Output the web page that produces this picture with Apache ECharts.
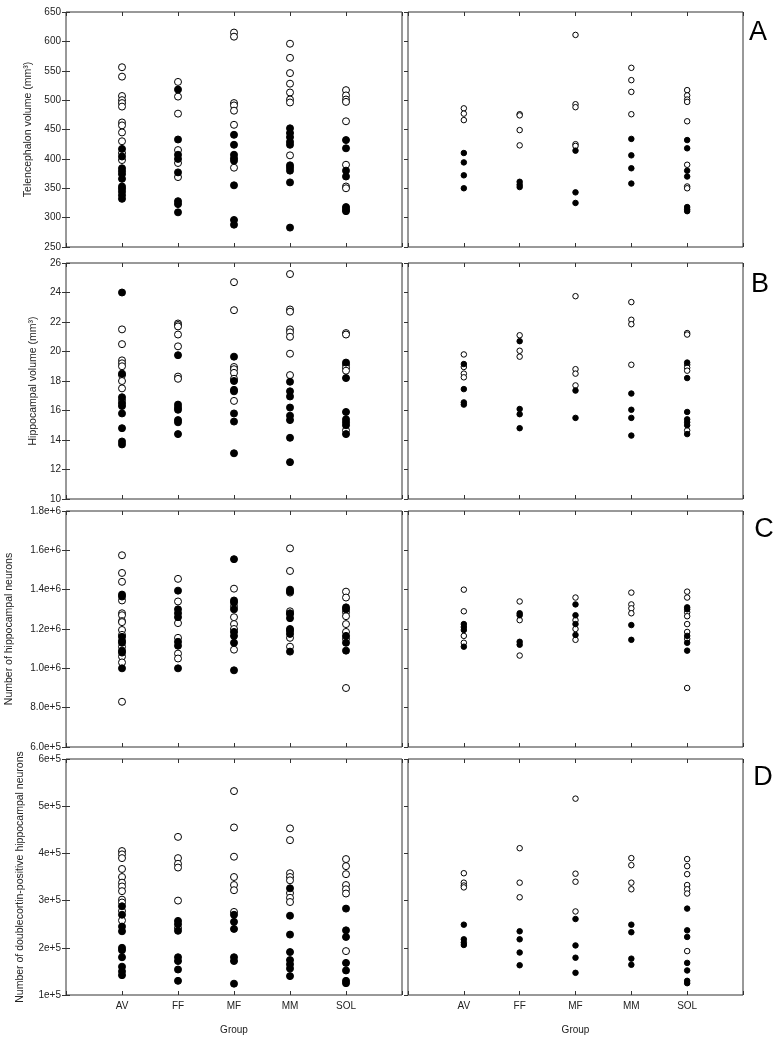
<!DOCTYPE html>
<html><head><meta charset="utf-8">
<script src="https://cdn.jsdelivr.net/npm/echarts@6/dist/echarts.min.js"></script>
<style>html,body{margin:0;padding:0;background:#fff}#c{width:780px;height:1041px}</style>
</head><body><div id="c"></div>
<script>
// ---- data ----
const groups = ['AV', 'FF', 'MF', 'MM', 'SOL'];
const xTickLabels = ['', 'AV', 'FF', 'MF', 'MM', 'SOL', ''];

// A: Telencephalon volume (mm3) — left: all groups, right: subset
const telLeftOpen = [
  [556, 540, 507, 500, 495, 489, 462, 457, 445, 430, 410, 398],
  [531, 506, 477, 415, 393, 369],
  [615, 608, 495, 491, 482, 458, 385],
  [596, 572, 546, 528, 513, 501, 496, 406],
  [517, 508, 501, 497, 464, 390, 353, 350]
];
const telLeftFilled = [
  [417, 404, 384, 379, 374, 366, 353, 349, 344, 338, 332],
  [518, 433, 407, 400, 377, 328, 323, 309],
  [441, 424, 407, 401, 397, 355, 296, 288],
  [452, 444, 437, 429, 424, 389, 385, 380, 360, 283],
  [432, 418, 380, 370, 318, 314, 311]
];
const telRightOpen = [
  [486, 477, 466],
  [476, 474, 449, 423],
  [611, 493, 488, 425, 422],
  [555, 534, 514, 476],
  [517, 508, 501, 497, 464, 390, 353, 350]
];
const telRightFilled = [
  [410, 394, 372, 350],
  [361, 356, 352],
  [414, 343, 325],
  [434, 406, 384, 358],
  [432, 418, 380, 370, 318, 314, 311]
];

// B: Hippocampal volume (mm3)
const hipLeftOpen = [
  [21.5, 20.5, 19.4, 19.2, 19.0, 18.4, 18.0, 17.5, 16.7],
  [21.9, 21.8, 21.7, 21.15, 20.35, 18.3, 18.15],
  [24.7, 22.8, 18.95, 18.8, 18.55, 18.15, 16.65],
  [25.25, 22.85, 22.7, 21.5, 21.3, 21.0, 19.85, 18.4],
  [21.25, 21.15, 19.1, 18.9, 18.7, 14.65]
];
const hipLeftFilled = [
  [24.0, 18.5, 16.9, 16.5, 16.3, 15.8, 14.8, 13.9, 13.7],
  [19.75, 16.4, 16.2, 16.05, 15.35, 15.2, 14.4],
  [19.65, 18.0, 17.4, 17.3, 15.8, 15.25, 13.1],
  [17.95, 17.3, 16.95, 16.2, 15.65, 15.35, 14.15, 12.5],
  [19.25, 18.2, 15.9, 15.4, 15.2, 15.0, 14.4]
];
const hipRightOpen = [
  [19.8, 18.95, 18.5, 18.25],
  [21.1, 20.05, 19.65],
  [23.75, 18.8, 18.5, 17.7],
  [23.35, 22.15, 21.85, 19.1],
  [21.25, 21.15, 19.1, 18.9, 18.7, 14.65]
];
const hipRightFilled = [
  [19.15, 17.45, 16.55, 16.4],
  [20.7, 16.1, 15.75, 14.8],
  [17.35, 15.5],
  [17.15, 16.05, 15.5, 14.3],
  [19.25, 18.2, 15.9, 15.4, 15.2, 15.0, 14.4]
];

// C: Number of hippocampal neurons
const neuLeftOpen = [
  [1575000, 1485000, 1440000, 1345000, 1280000, 1270000, 1240000, 1235000, 1195000, 1170000, 1110000, 1060000, 1030000, 830000],
  [1455000, 1340000, 1230000, 1155000, 1075000, 1050000],
  [1405000, 1315000, 1260000, 1225000, 1200000, 1095000],
  [1610000, 1495000, 1385000, 1290000, 1275000, 1155000, 1110000],
  [1390000, 1360000, 1285000, 1265000, 1225000, 1185000, 1150000, 900000]
];
const neuLeftFilled = [
  [1375000, 1365000, 1160000, 1140000, 1130000, 1090000, 1080000, 1000000],
  [1395000, 1300000, 1280000, 1260000, 1135000, 1115000, 1000000],
  [1555000, 1345000, 1335000, 1300000, 1185000, 1165000, 1130000, 990000],
  [1400000, 1390000, 1280000, 1255000, 1200000, 1190000, 1175000, 1085000],
  [1310000, 1300000, 1165000, 1130000, 1090000]
];
const neuRightOpen = [
  [1400000, 1290000, 1165000, 1130000],
  [1340000, 1245000, 1065000],
  [1360000, 1245000, 1200000, 1145000],
  [1385000, 1325000, 1305000, 1280000],
  [1390000, 1360000, 1285000, 1265000, 1225000, 1185000, 1150000, 900000]
];
const neuRightFilled = [
  [1225000, 1210000, 1195000, 1110000],
  [1280000, 1270000, 1135000, 1120000],
  [1325000, 1270000, 1225000, 1170000],
  [1220000, 1145000],
  [1310000, 1300000, 1165000, 1130000, 1090000]
];

// D: Number of doublecortin-positive hippocampal neurons
const dcxLeftOpen = [
  [405000, 398000, 390000, 367000, 350000, 338000, 330000, 320000, 302000, 296000, 278000, 258000],
  [435000, 390000, 378000, 370000, 300000, 242000],
  [532000, 455000, 393000, 350000, 333000, 322000, 276000],
  [453000, 428000, 358000, 350000, 343000, 316000, 306000, 297000],
  [388000, 373000, 356000, 333000, 324000, 315000, 193000]
];
const dcxLeftFilled = [
  [288000, 270000, 245000, 235000, 200000, 195000, 180000, 160000, 150000, 142000],
  [257000, 250000, 236000, 180000, 172000, 154000, 130000],
  [270000, 255000, 240000, 180000, 172000, 124000],
  [326000, 268000, 228000, 191000, 174000, 165000, 156000, 140000],
  [283000, 237000, 223000, 168000, 152000, 130000, 125000]
];
const dcxRightOpen = [
  [358000, 338000, 332000, 328000],
  [411000, 338000, 307000],
  [516000, 357000, 340000, 277000],
  [390000, 375000, 338000, 324000],
  [388000, 373000, 356000, 333000, 324000, 315000, 193000]
];
const dcxRightFilled = [
  [249000, 218000, 211000, 206000],
  [235000, 218000, 190000, 163000],
  [261000, 205000, 179000, 147000],
  [249000, 233000, 177000, 164000],
  [283000, 237000, 223000, 168000, 152000, 130000, 125000]
];

const yNames = ['Telencephalon volume (mm³)', 'Hippocampal volume (mm³)',
  'Number of hippocampal neurons', 'Number of doublecortin-positive hippocampal neurons'];
const panelLetters = ['A', 'B', 'C', 'D'];

// ---- layout ----
const FONT = '"Liberation Sans", Arial, Helvetica, sans-serif';
const rows = [{top: 12, height: 235}, {top: 263, height: 236}, {top: 511, height: 236}, {top: 759, height: 236}];
const cols = [{left: 66, width: 336}, {left: 408, width: 335}];
const yCfg = [
  {min: 250, max: 650, interval: 50, fmt: v => String(v), gap: 32},
  {min: 10, max: 26, interval: 2, fmt: v => String(v), gap: 27},
  {min: 600000, max: 1800000, interval: 200000,
   fmt: v => v >= 1000000 ? (v / 1e6).toFixed(1) + 'e+6' : (v / 1e5).toFixed(1) + 'e+5', gap: 51},
  {min: 100000, max: 600000, interval: 100000, fmt: v => Math.round(v / 1e5) + 'e+5', gap: 40}
];
const panelData = [
  [[telLeftOpen, telLeftFilled], [telRightOpen, telRightFilled]],
  [[hipLeftOpen, hipLeftFilled], [hipRightOpen, hipRightFilled]],
  [[neuLeftOpen, neuLeftFilled], [neuRightOpen, neuRightFilled]],
  [[dcxLeftOpen, dcxLeftFilled], [dcxRightOpen, dcxRightFilled]]
];

const grid = [], xAxis = [], yAxis = [], series = [];
const tick = {inside: true, length: 4, lineStyle: {color: '#333', width: 1}};
const lineColor = '#333';

function pts(arr) {
  const out = [];
  arr.forEach((vals, i) => vals.forEach(v => out.push([i + 1, v])));
  return out;
}

for (let r = 0; r < 4; r++) {
  for (let c = 0; c < 2; c++) {
    const p = r * 2 + c;
    grid.push({left: cols[c].left, width: cols[c].width, top: rows[r].top, height: rows[r].height,
      show: true, borderColor: lineColor, borderWidth: 1, backgroundColor: '#fff'});
    const isBottom = r === 3;
    xAxis.push({type: 'value', gridIndex: p, min: 0, max: 6, interval: 1, position: 'bottom',
      axisLine: {show: false}, axisTick: tick, splitLine: {show: false},
      axisLabel: {show: isBottom, formatter: v => xTickLabels[v] || '', color: '#222', fontSize: 10,
        fontFamily: FONT, margin: 6, showMinLabel: true, showMaxLabel: true},
      name: isBottom ? 'Group' : '', nameLocation: 'middle', nameGap: 30,
      nameTextStyle: {color: '#222', fontSize: 10, fontFamily: FONT}});
    xAxis.push({type: 'value', gridIndex: p, min: 0, max: 6, interval: 1, position: 'top',
      axisLine: {show: false}, axisTick: tick, splitLine: {show: false}, axisLabel: {show: false}});
    const yc = yCfg[r];
    yAxis.push({type: 'value', gridIndex: p, min: yc.min, max: yc.max, interval: yc.interval, position: 'left',
      axisLine: {show: false}, axisTick: c === 0 ? tick : {show: false}, splitLine: {show: false},
      axisLabel: {show: c === 0, formatter: yc.fmt, color: '#222', fontSize: 10, fontFamily: FONT, margin: 5,
        showMinLabel: true, showMaxLabel: true},
      name: c === 0 ? yNames[r] : '', nameLocation: 'middle', nameGap: yc.gap, nameRotate: 90,
      nameTextStyle: {color: '#222', fontSize: 10.5, fontFamily: FONT}});
    yAxis.push({type: 'value', gridIndex: p, min: yc.min, max: yc.max, interval: yc.interval, position: 'right',
      axisLine: {show: false}, axisTick: tick, splitLine: {show: false}, axisLabel: {show: false}});

    const [openArr, filledArr] = panelData[r][c];
    const size = c === 0 ? 7 : 5.5;
    series.push({type: 'scatter', xAxisIndex: 2 * p, yAxisIndex: 2 * p, data: pts(openArr),
      symbol: 'circle', symbolSize: size, silent: true, animation: false,
      itemStyle: {color: '#fff', borderColor: '#000', borderWidth: 1, opacity: 1}});
    series.push({type: 'scatter', xAxisIndex: 2 * p, yAxisIndex: 2 * p, data: pts(filledArr),
      symbol: 'circle', symbolSize: size, silent: true, animation: false,
      itemStyle: {color: '#000', borderColor: '#000', borderWidth: 1, opacity: 1}});
  }
}

const letterPos = [[758, 33], [760, 285], [764, 530], [763, 778]];
const graphic = panelLetters.map((t, i) => ({
  type: 'text', x: letterPos[i][0], y: letterPos[i][1],
  style: {text: t, fill: '#000', font: '27px ' + FONT, textAlign: 'center', textVerticalAlign: 'middle'}
}));

const chart = echarts.init(document.getElementById('c'), null, {renderer: 'canvas'});
chart.setOption({animation: false, backgroundColor: '#fff', grid, xAxis, yAxis, series, graphic});
</script></body></html>
